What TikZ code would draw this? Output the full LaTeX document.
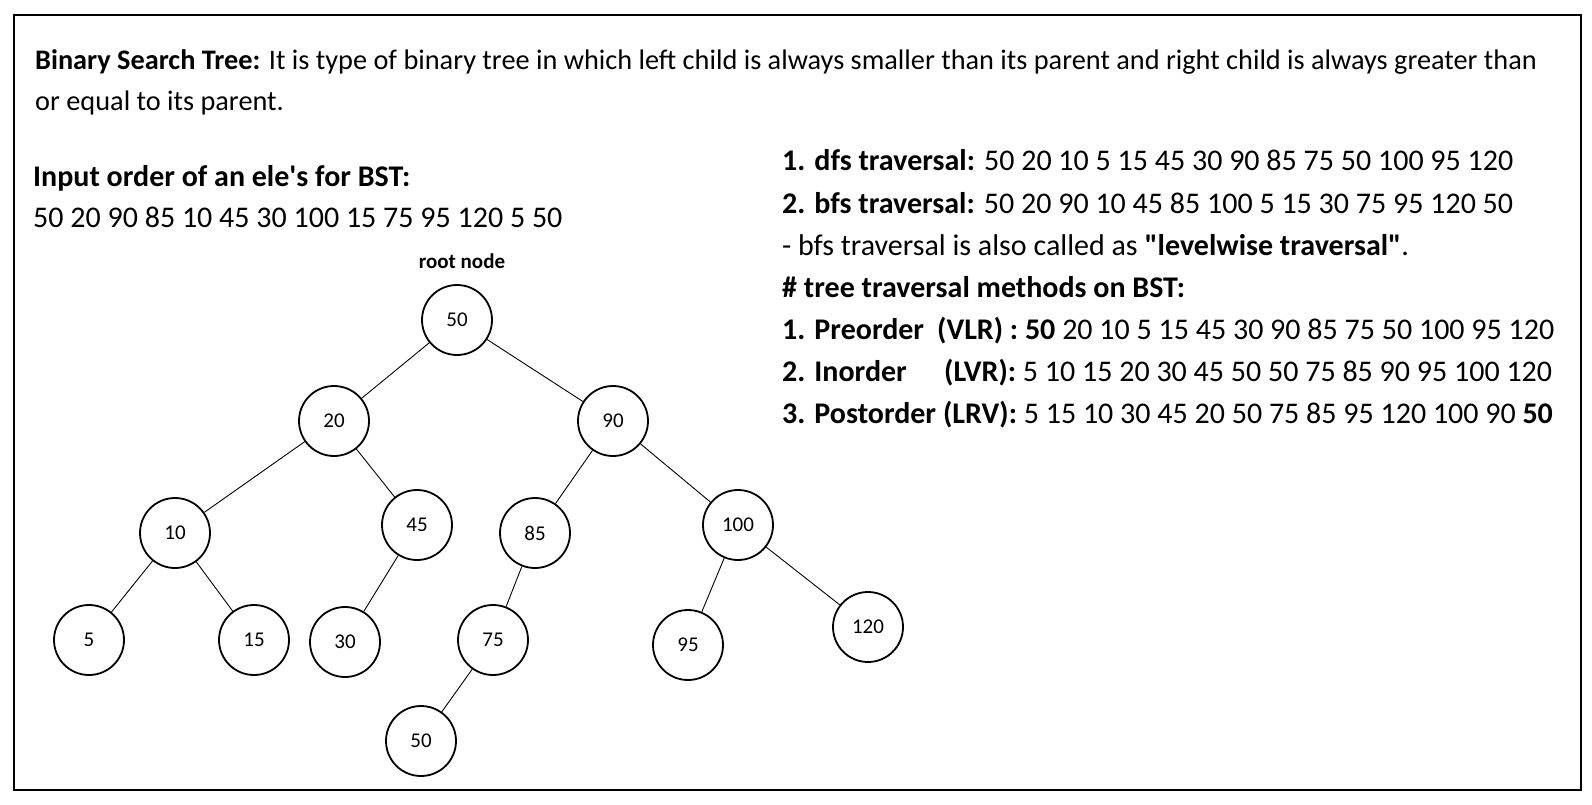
\documentclass[tikz,border=0pt]{standalone}
\usepackage{fontspec}
\setmainfont{Carlito}
\usetikzlibrary{positioning}
\newcommand\dq{\XeTeXglyph\XeTeXcharglyph"22\relax}
\newcommand\sq{\XeTeXglyph\XeTeXcharglyph"27\relax}

\begin{document}
\begin{tikzpicture}[
x=1pt,y=-1pt,
bnode/.style={draw,circle,line width=1.8pt,minimum size=70pt,inner sep=0pt,font=\fontsize{21}{21}\selectfont},
edge/.style={line width=0.9pt},
txt/.style={anchor=base west,inner sep=0pt,font=\fontsize{30}{30}\selectfont}
]
\useasboundingbox (0,0) rectangle (1592,805);
\fill[white] (0,0) rectangle (1592,805);
\draw[line width=2.5pt] (14,15) rectangle (1581,790);

% heading text
\node[txt,font=\fontsize{28.3}{28.3}\selectfont] (defn) at (35,70) {\textbf{Binary Search Tree:} It is type of binary tree in which left child is always smaller than its parent and right child is always greater than};
\node[txt,font=\fontsize{28.3}{28.3}\selectfont] (defn2) at (35,111) {or equal to its parent.};
\node[txt] (inhead) at (33,186) {\textbf{Input order of an ele\sq s for BST:}};
\node[txt] (inlist) at (33,227) {50 20 90 85 10 45 30 100 15 75 95 120 5 50};

% traversals
\node[txt] (dfs) at (782,171) {\textbf{1. dfs traversal:} 50 20 10 5 15 45 30 90 85 75 50 100 95 120};
\node[txt] (bfs) at (782,213) {\textbf{2. bfs traversal:} 50 20 90 10 45 85 100 5 15 30 75 95 120 50};
\node[txt] (note) at (782,255) {- bfs traversal is also called as \textbf{\dq levelwise traversal\dq}.};
\node[txt] (meth) at (782,297) {\textbf{\# tree traversal methods on BST:}};
\node[txt] (pre) at (782,339) {\makebox[155pt][l]{\textbf{1. Preorder}}\textbf{(VLR) : 50} 20 10 5 15 45 30 90 85 75 50 100 95 120};
\node[txt] (ino) at (782,381) {\makebox[162pt][l]{\textbf{2. Inorder}}\textbf{(LVR):} 5 10 15 20 30 45 50 50 75 85 90 95 100 120};
\node[txt] (post) at (782,423) {\textbf{3. Postorder}\hspace{7pt}\textbf{(LRV):} 5 15 10 30 45 20 50 75 85 95 120 100 90 \textbf{50}};

% tree
\node[anchor=base,inner sep=0pt,font=\bfseries\fontsize{21}{21}\selectfont] (rootlbl) at (462,268) {root node};
\node[bnode] (n50) at (457,320) {50};
\node[bnode] (n20) at (334,421) {20};
\node[bnode] (n90) at (613,421) {90};
\node[bnode] (n10) at (175,533) {10};
\node[bnode] (n45) at (417,525) {45};
\node[bnode] (n85) at (535,533) {85};
\node[bnode] (n100) at (738,525) {100};
\node[bnode] (n5) at (89,640) {5};
\node[bnode] (n15) at (254,640) {15};
\node[bnode] (n30) at (345,642) {30};
\node[bnode] (n75) at (493,640) {75};
\node[bnode] (n95) at (688,645) {95};
\node[bnode] (n120) at (868,627) {120};
\node[bnode] (n50b) at (421,741) {50};

\draw[edge] (n50) -- (n20);
\draw[edge] (n50) -- (n90);
\draw[edge] (n20) -- (n10);
\draw[edge] (n20) -- (n45);
\draw[edge] (n90) -- (n85);
\draw[edge] (n90) -- (n100);
\draw[edge] (n10) -- (n5);
\draw[edge] (n10) -- (n15);
\draw[edge] (n45) -- (n30);
\draw[edge] (n85) -- (n75);
\draw[edge] (n100) -- (n95);
\draw[edge] (n100) -- (n120);
\draw[edge] (n75) -- (n50b);
\end{tikzpicture}
\end{document}
